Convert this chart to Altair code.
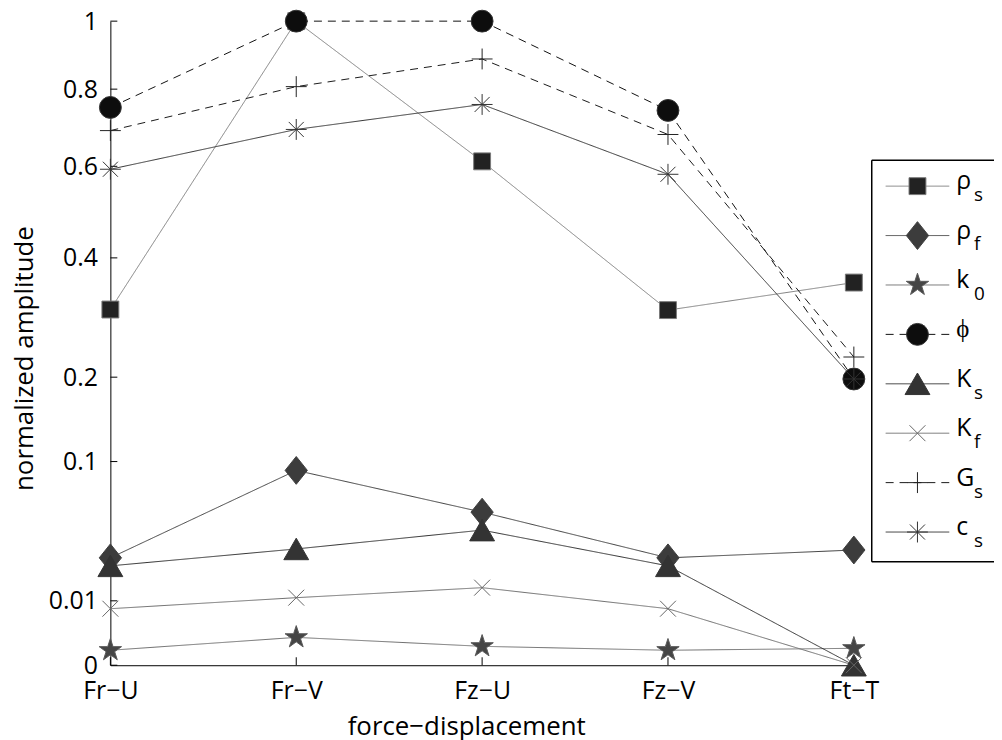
import altair as alt
import pandas as pd

categories = ["Fr−U", "Fr−V", "Fz−U", "Fz−V", "Ft−T"]
series = ["ρs", "ρf", "k0", "ϕ", "Ks", "Kf", "Gs", "cs"]
legend_main = ["ρ", "ρ", "k", "ϕ", "K", "K", "G", "c"]
legend_sub = ["s", "f", "0", "", "s", "f", "s", "s"]

rho_s = [0.305, 1.0, 0.612, 0.304, 0.353]
rho_f = [0.0278, 0.0915, 0.0565, 0.0278, 0.032]
k_0 = [0.00054, 0.00187, 0.00086, 0.00054, 0.00069]
phi = [0.750, 1.0, 1.0, 0.742, 0.1975]
K_s = [0.0238, 0.0326, 0.044, 0.0238, 0.0]
K_f = [0.0077, 0.0110, 0.0145, 0.0077, 0.0]
G_s = [0.689, 0.807, 0.886, 0.679, 0.229]
c_s = [0.593, 0.692, 0.758, 0.581, 0.1975]

y_ticks = [0, 0.01, 0.1, 0.2, 0.4, 0.6, 0.8, 1]

all_values = [rho_s, rho_f, k_0, phi, K_s, K_f, G_s, c_s]
rows = []
for s, vals in zip(series, all_values):
    for c, v in zip(categories, vals):
        rows.append({"series": s, "cat": c, "value": v})
df = pd.DataFrame(rows)
df_yticks = pd.DataFrame({"value": y_ticks})
df_xticks = pd.DataFrame({"cat": categories})
df_leg = pd.DataFrame({"series": series, "main": legend_main, "sub": legend_sub})
df_one = pd.DataFrame({"k": [0]})

# styles
line_colors = ["#808080", "#404040", "#6e6e6e", "#111111", "#303030", "#6e6e6e", "#1a1a1a", "#333333"]
fill_colors = ["#222222", "#3c3c3c", "#454545", "#0d0d0d", "#333333", "#666666", "#222222", "#333333"]
edge_colors = ["#7a7a7a", "#404040", "#5a5a5a", "#333333", "#333333", "#666666", "#222222", "#333333"]
dashes = [[1, 0], [1, 0], [1, 0], [8, 6], [1, 0], [1, 0], [8, 6], [1, 0]]
STAR = ("M0,-1L0.225,-0.309L0.951,-0.309L0.363,0.118L0.588,0.809L0,0.382"
        "L-0.588,0.809L-0.363,0.118L-0.951,-0.309L-0.225,-0.309Z")
shapes = [
    "square",
    "M0,-1L0.8,0L0,1L-0.8,0Z",
    STAR,
    "circle",
    "triangle-up",
    "M-1,-1L1,1M-1,1L1,-1",
    "M0,-1L0,1M-1,0L1,0",
    "M0,-1L0,1M-1,0L1,0M-0.72,-0.72L0.72,0.72M-0.72,0.72L0.72,-0.72",
]
sizes = [289, 784, 560, 484, 625, 256, 441, 441]

FONT = "Open Sans"
W, H = 748, 648
LX = 766  # legend box left, relative to plot
LW = 123

xs = alt.Scale(domain=categories, type="point", padding=0)
ys = alt.Scale(type="sqrt", domain=[0, 1], nice=False, zero=True)
ly = alt.Scale(domain=series, type="point", range=[166, 514], padding=0)

def sc(rng):
    return alt.Scale(domain=series, range=rng)

x_enc = alt.X("cat:N", scale=xs, sort=categories,
              axis=alt.Axis(title="force−displacement", labelAngle=0, ticks=False,
                            labelAlign="center", labelBaseline="top",
                            labelPadding=13, labelFontSize=25, titleFontSize=26,
                            titleX=358, titleY=70, titleBaseline="alphabetic",
                            domainColor="black", labelColor="black",
                            titleColor="black", titleFontWeight="normal"))
y_enc = alt.Y("value:Q", scale=ys,
              axis=alt.Axis(title="normalized amplitude", values=y_ticks, format="~g",
                            ticks=False, grid=False, labelPadding=13,
                            labelFontSize=25, titleFontSize=26, titleX=-78, titleY=339,
                            titleBaseline="alphabetic",
                            domainColor="black", labelColor="black",
                            titleColor="black", titleFontWeight="normal"))

layers = []
layers.append(alt.Chart(df_yticks).mark_rule(color="black", strokeWidth=1).encode(
    y=alt.Y("value:Q", scale=ys, axis=None), x=alt.value(0), x2=alt.value(7)))
layers.append(alt.Chart(df_xticks).mark_rule(color="black", strokeWidth=1).encode(
    x=alt.X("cat:N", scale=xs, sort=categories), y=alt.value(H), y2=alt.value(H - 8)))
layers.append(alt.Chart(df).mark_line(strokeWidth=1).encode(
    x=x_enc, y=y_enc,
    stroke=alt.Stroke("series:N", scale=sc(line_colors), legend=None),
    strokeDash=alt.StrokeDash("series:N", scale=sc(dashes), legend=None),
))
for s, shp, sz, fc, ec in zip(series, shapes, sizes, fill_colors, edge_colors):
    layers.append(alt.Chart(df).transform_filter(alt.datum.series == s).mark_point(
        shape=shp, size=sz, filled=True, fill=fc, stroke=ec, strokeWidth=1, opacity=1
    ).encode(x=alt.X("cat:N", scale=xs, sort=categories),
             y=alt.Y("value:Q", scale=ys, axis=None)))

# legend box
for yv in (140, 544):
    layers.append(alt.Chart(df_one).mark_rule(color="black", strokeWidth=1.5).encode(
        x=alt.value(LX), x2=alt.value(LX + LW), y=alt.value(yv)))
layers.append(alt.Chart(df_one).mark_rule(color="black", strokeWidth=1.5).encode(
    x=alt.value(LX), y=alt.value(140), y2=alt.value(544)))
layers.append(alt.Chart(df_leg).mark_rule(strokeWidth=1).encode(
    y=alt.Y("series:N", scale=ly, axis=None),
    x=alt.value(LX + 14), x2=alt.value(LX + 78),
    stroke=alt.Stroke("series:N", scale=sc(line_colors), legend=None),
    strokeDash=alt.StrokeDash("series:N", scale=sc(dashes), legend=None),
))
for s, shp, sz, fc, ec in zip(series, shapes, sizes, fill_colors, edge_colors):
    layers.append(alt.Chart(df_leg).transform_filter(alt.datum.series == s).mark_point(
        shape=shp, size=sz, filled=True, fill=fc, stroke=ec, strokeWidth=1, opacity=1
    ).encode(x=alt.value(LX + 46), y=alt.Y("series:N", scale=ly, axis=None)))
layers.append(alt.Chart(df_leg).mark_text(align="left", baseline="alphabetic", dy=3,
                                          fontSize=25, color="black").encode(
    y=alt.Y("series:N", scale=ly, axis=None), x=alt.value(LX + 85), text="main:N"))
layers.append(alt.Chart(df_leg).mark_text(align="left", baseline="alphabetic", dy=15,
                                          fontSize=19, color="black").encode(
    y=alt.Y("series:N", scale=ly, axis=None), x=alt.value(LX + 103), text="sub:N"))

chart = alt.layer(*layers).resolve_scale(y="independent").properties(
    width=W, height=H,
    autosize=alt.AutoSizeParams(type="none"),
    padding={"left": 103, "top": 11, "right": 141, "bottom": 73},
).configure(font=FONT).configure_view(strokeWidth=0)

chart.save("out.html", embed_options={"renderer": "svg", "actions": False})
